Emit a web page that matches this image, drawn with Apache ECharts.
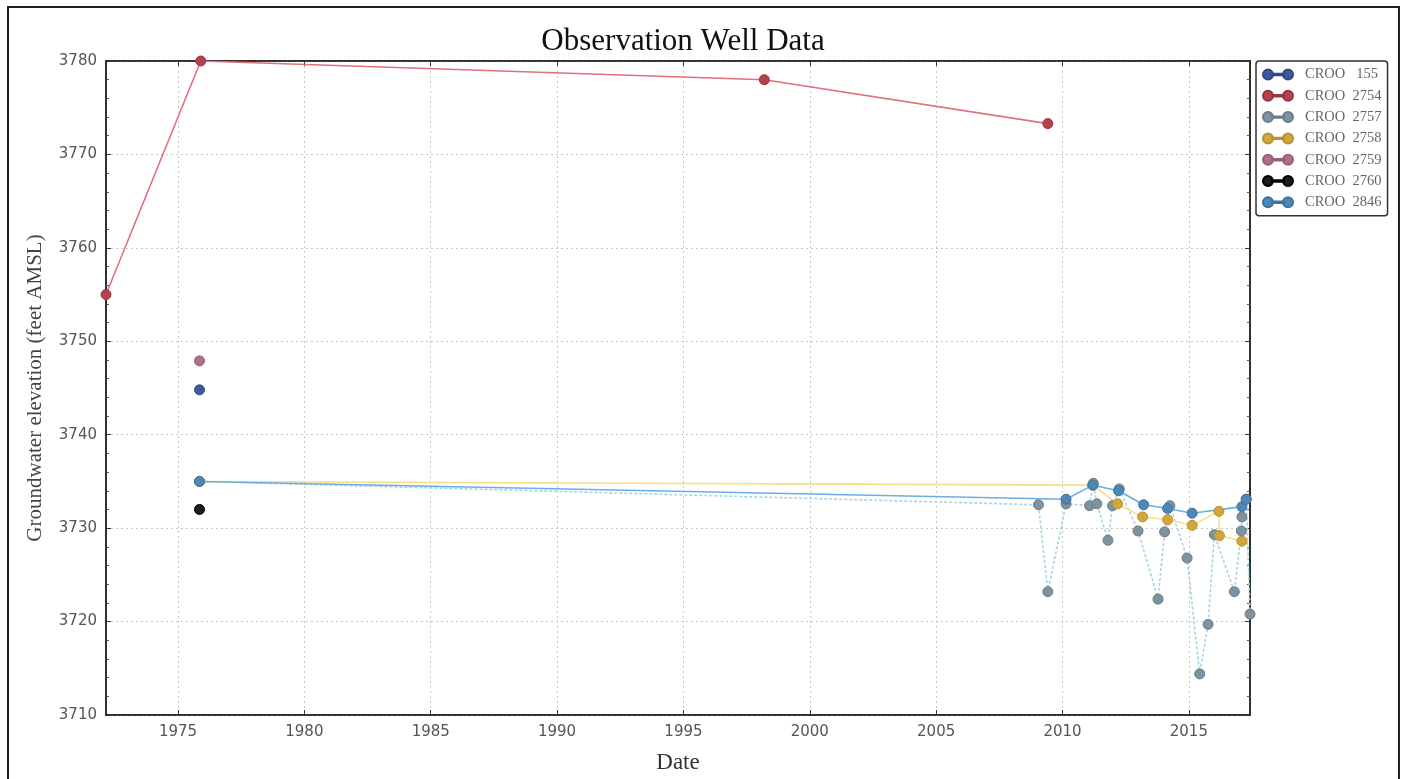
<!DOCTYPE html>
<html>
<head>
<meta charset="utf-8">
<script src="https://cdn.jsdelivr.net/npm/echarts@6/dist/echarts.min.js"></script>
<style>html,body{margin:0;padding:0;background:#fff;}#c{width:1405px;height:779px;}</style>
</head>
<body>
<div id="c"></div>
<script>
// ---- data (decimal years, feet AMSL) ----
const seriesNames = ['CROO   155','CROO  2754','CROO  2757','CROO  2758','CROO  2759','CROO  2760','CROO  2846'];
const xTicks = [1975,1980,1985,1990,1995,2000,2005,2010,2015];
const yTicks = [3710,3720,3730,3740,3750,3760,3770,3780];

const c155Dates = [1975.85];
const c155Vals  = [3744.8];
const c2754Dates = [1972.15, 1975.9, 1998.2, 2009.42];
const c2754Vals  = [3755.0, 3780.0, 3778.0, 3773.3];
const c2757Dates = [1975.85, 2009.05, 2009.42, 2010.14, 2011.07, 2011.22, 2011.36, 2011.8, 2011.98, 2012.25, 2012.99, 2013.78, 2014.04, 2014.25, 2014.93, 2015.43, 2015.76, 2016.01, 2016.8, 2017.08, 2017.1, 2017.27, 2017.42];
const c2757Vals  = [3735.0, 3732.5, 3723.2, 3732.6, 3732.4, 3734.8, 3732.6, 3728.7, 3732.4, 3734.2, 3729.7, 3722.4, 3729.6, 3732.4, 3726.8, 3714.4, 3719.7, 3729.3, 3723.2, 3729.7, 3731.2, 3733.1, 3720.8];
const c2758Dates = [1975.85, 2011.2, 2012.18, 2013.17, 2014.16, 2015.13, 2016.19, 2016.21, 2017.1];
const c2758Vals  = [3735.0, 3734.6, 3732.6, 3731.2, 3730.9, 3730.3, 3731.8, 3729.2, 3728.6];
const c2759Dates = [1975.85];
const c2759Vals  = [3747.9];
const c2760Dates = [1975.85];
const c2760Vals  = [3732.0];
const c2846Dates = [1975.85, 2010.14, 2011.2, 2012.22, 2013.21, 2014.16, 2015.13, 2017.1, 2017.27];
const c2846Vals  = [3735.0, 3733.1, 3734.6, 3734.0, 3732.5, 3732.1, 3731.6, 3732.3, 3733.1];

const xMin = 1972.15, xMax = 2017.42;

function pairs(d, v){ return d.map((x,i)=>[x, v[i]]); }

const styles = [
  {m:'#3d5a9e', b:'#2f4a85', l:'#3d5a9e', t:'solid'},
  {m:'#b3434f', b:'#993540', l:'#e0707c', t:'solid'},
  {m:'#7f939f', b:'#6b7d88', l:'#a9d3e4', t:'dashed'},
  {m:'#d2a63c', b:'#b8912e', l:'#f6df84', t:'solid'},
  {m:'#b06f89', b:'#9a5f77', l:'#b06f89', t:'solid'},
  {m:'#1c1c1c', b:'#000000', l:'#1c1c1c', t:'solid'},
  {m:'#4d87b8', b:'#3e73a0', l:'#6aaee6', t:'solid'}
];
const dataSets = [
  pairs(c155Dates,c155Vals), pairs(c2754Dates,c2754Vals), pairs(c2757Dates,c2757Vals),
  pairs(c2758Dates,c2758Vals), pairs(c2759Dates,c2759Vals), pairs(c2760Dates,c2760Vals),
  pairs(c2846Dates,c2846Vals)
];
const icon = 'path://M0,5A5,5,0,1,1,10,5A5,5,0,1,1,0,5ZM9,4.3L21,4.3L21,5.7L9,5.7ZM20,5A5,5,0,1,1,30,5A5,5,0,1,1,20,5Z';

const series = dataSets.map((d,i)=>({
  name: seriesNames[i],
  type: 'line',
  data: d,
  xAxisIndex: 0, yAxisIndex: 0,
  symbol: 'circle',
  symbolSize: 10,
  showAllSymbol: true,
  clip: true,
  itemStyle: {color: styles[i].m, borderColor: styles[i].b, borderWidth: 1},
  lineStyle: {color: styles[i].l, width: 1.6, type: styles[i].t === 'dashed' ? [3,2] : 'solid'},
  emphasis: {disabled: true},
  animation: false
}));

const chart = echarts.init(document.getElementById('c'), null, {renderer:'canvas'});
const labelFont = {fontFamily: 'DejaVu Sans', fontSize: 15, color: '#555'};
chart.setOption({
  animation: false,
  backgroundColor: '#fff',
  title: {
    text: 'Observation Well Data',
    left: 678, top: 21, textAlign: 'center',
    textStyle: {fontFamily: 'Liberation Serif', fontSize: 31, fontWeight: 'normal', color: '#111'}
  },
  graphic: [{
    type: 'rect', shape: {x: 8, y: 7, width: 1391, height: 790},
    style: {fill: 'none', stroke: '#222', lineWidth: 2}, silent: true, z: 100
  }],
  legend: {
    orient: 'vertical', left: 1256, top: 61,
    padding: [6, 6, 6, 6],
    itemWidth: 30, itemHeight: 10, itemGap: 6.3,
    icon: icon,
    borderColor: '#333', borderWidth: 1.5, borderRadius: 3,
    backgroundColor: '#fff',
    textStyle: {fontFamily: 'Liberation Serif', fontSize: 14.5, color: '#666', padding: [0,0,0,7], width: 86, overflow: 'truncate'},
    data: seriesNames
  },
  grid: {left: 106, right: 155, top: 61, bottom: 52, show: true, borderColor: '#222', borderWidth: 1.5, containLabel: false},
  xAxis: [{
    type: 'value', min: xMin, max: xMax, position: 'bottom',
    name: 'Date', nameLocation: 'middle', nameGap: 36,
    nameTextStyle: {fontFamily: 'Liberation Serif', fontSize: 23, color: '#333'},
    axisLine: {show: true, lineStyle: {color: '#222', width: 1.5}},
    axisTick: {show: true, inside: true, length: 5, customValues: xTicks, lineStyle: {color: '#333'}},
    axisLabel: Object.assign({margin: 10, customValues: xTicks, formatter: v => String(Math.round(v))}, labelFont),
    splitLine: {show: true, lineStyle: {color: '#c8c8c8', type: [2,3], width: 1}},
    minorTick: {show: false}
  }, {
    type: 'value', min: xMin, max: xMax, position: 'top',
    axisLine: {show: true, lineStyle: {color: '#222', width: 1.5}},
    axisTick: {show: true, inside: true, length: 5, customValues: xTicks, lineStyle: {color: '#333'}},
    axisLabel: {show: false}, splitLine: {show: false}
  }],
  yAxis: [{
    type: 'value', min: 3710, max: 3780, interval: 10,
    name: 'Groundwater elevation (feet AMSL)', nameLocation: 'middle', nameGap: 60,
    nameTextStyle: {fontFamily: 'Liberation Serif', fontSize: 21, color: '#444'},
    axisLine: {show: true, lineStyle: {color: '#222', width: 1.5}},
    axisTick: {show: true, inside: true, length: 5, lineStyle: {color: '#333'}},
    minorTick: {show: true, splitNumber: 5, length: 3, lineStyle: {color: '#555'}},
    axisLabel: Object.assign({margin: 9, formatter: v => String(v)}, labelFont),
    splitLine: {show: true, lineStyle: {color: '#c8c8c8', type: [2,3], width: 1}}
  }, {
    type: 'value', min: 3710, max: 3780, interval: 10, position: 'right',
    axisLine: {show: true, lineStyle: {color: '#222', width: 1.5}},
    axisTick: {show: true, inside: true, length: 5, lineStyle: {color: '#333'}},
    minorTick: {show: true, splitNumber: 5, length: 3, lineStyle: {color: '#555'}},
    axisLabel: {show: false}, splitLine: {show: false}
  }],
  series: series
});
</script>
</body>
</html>
